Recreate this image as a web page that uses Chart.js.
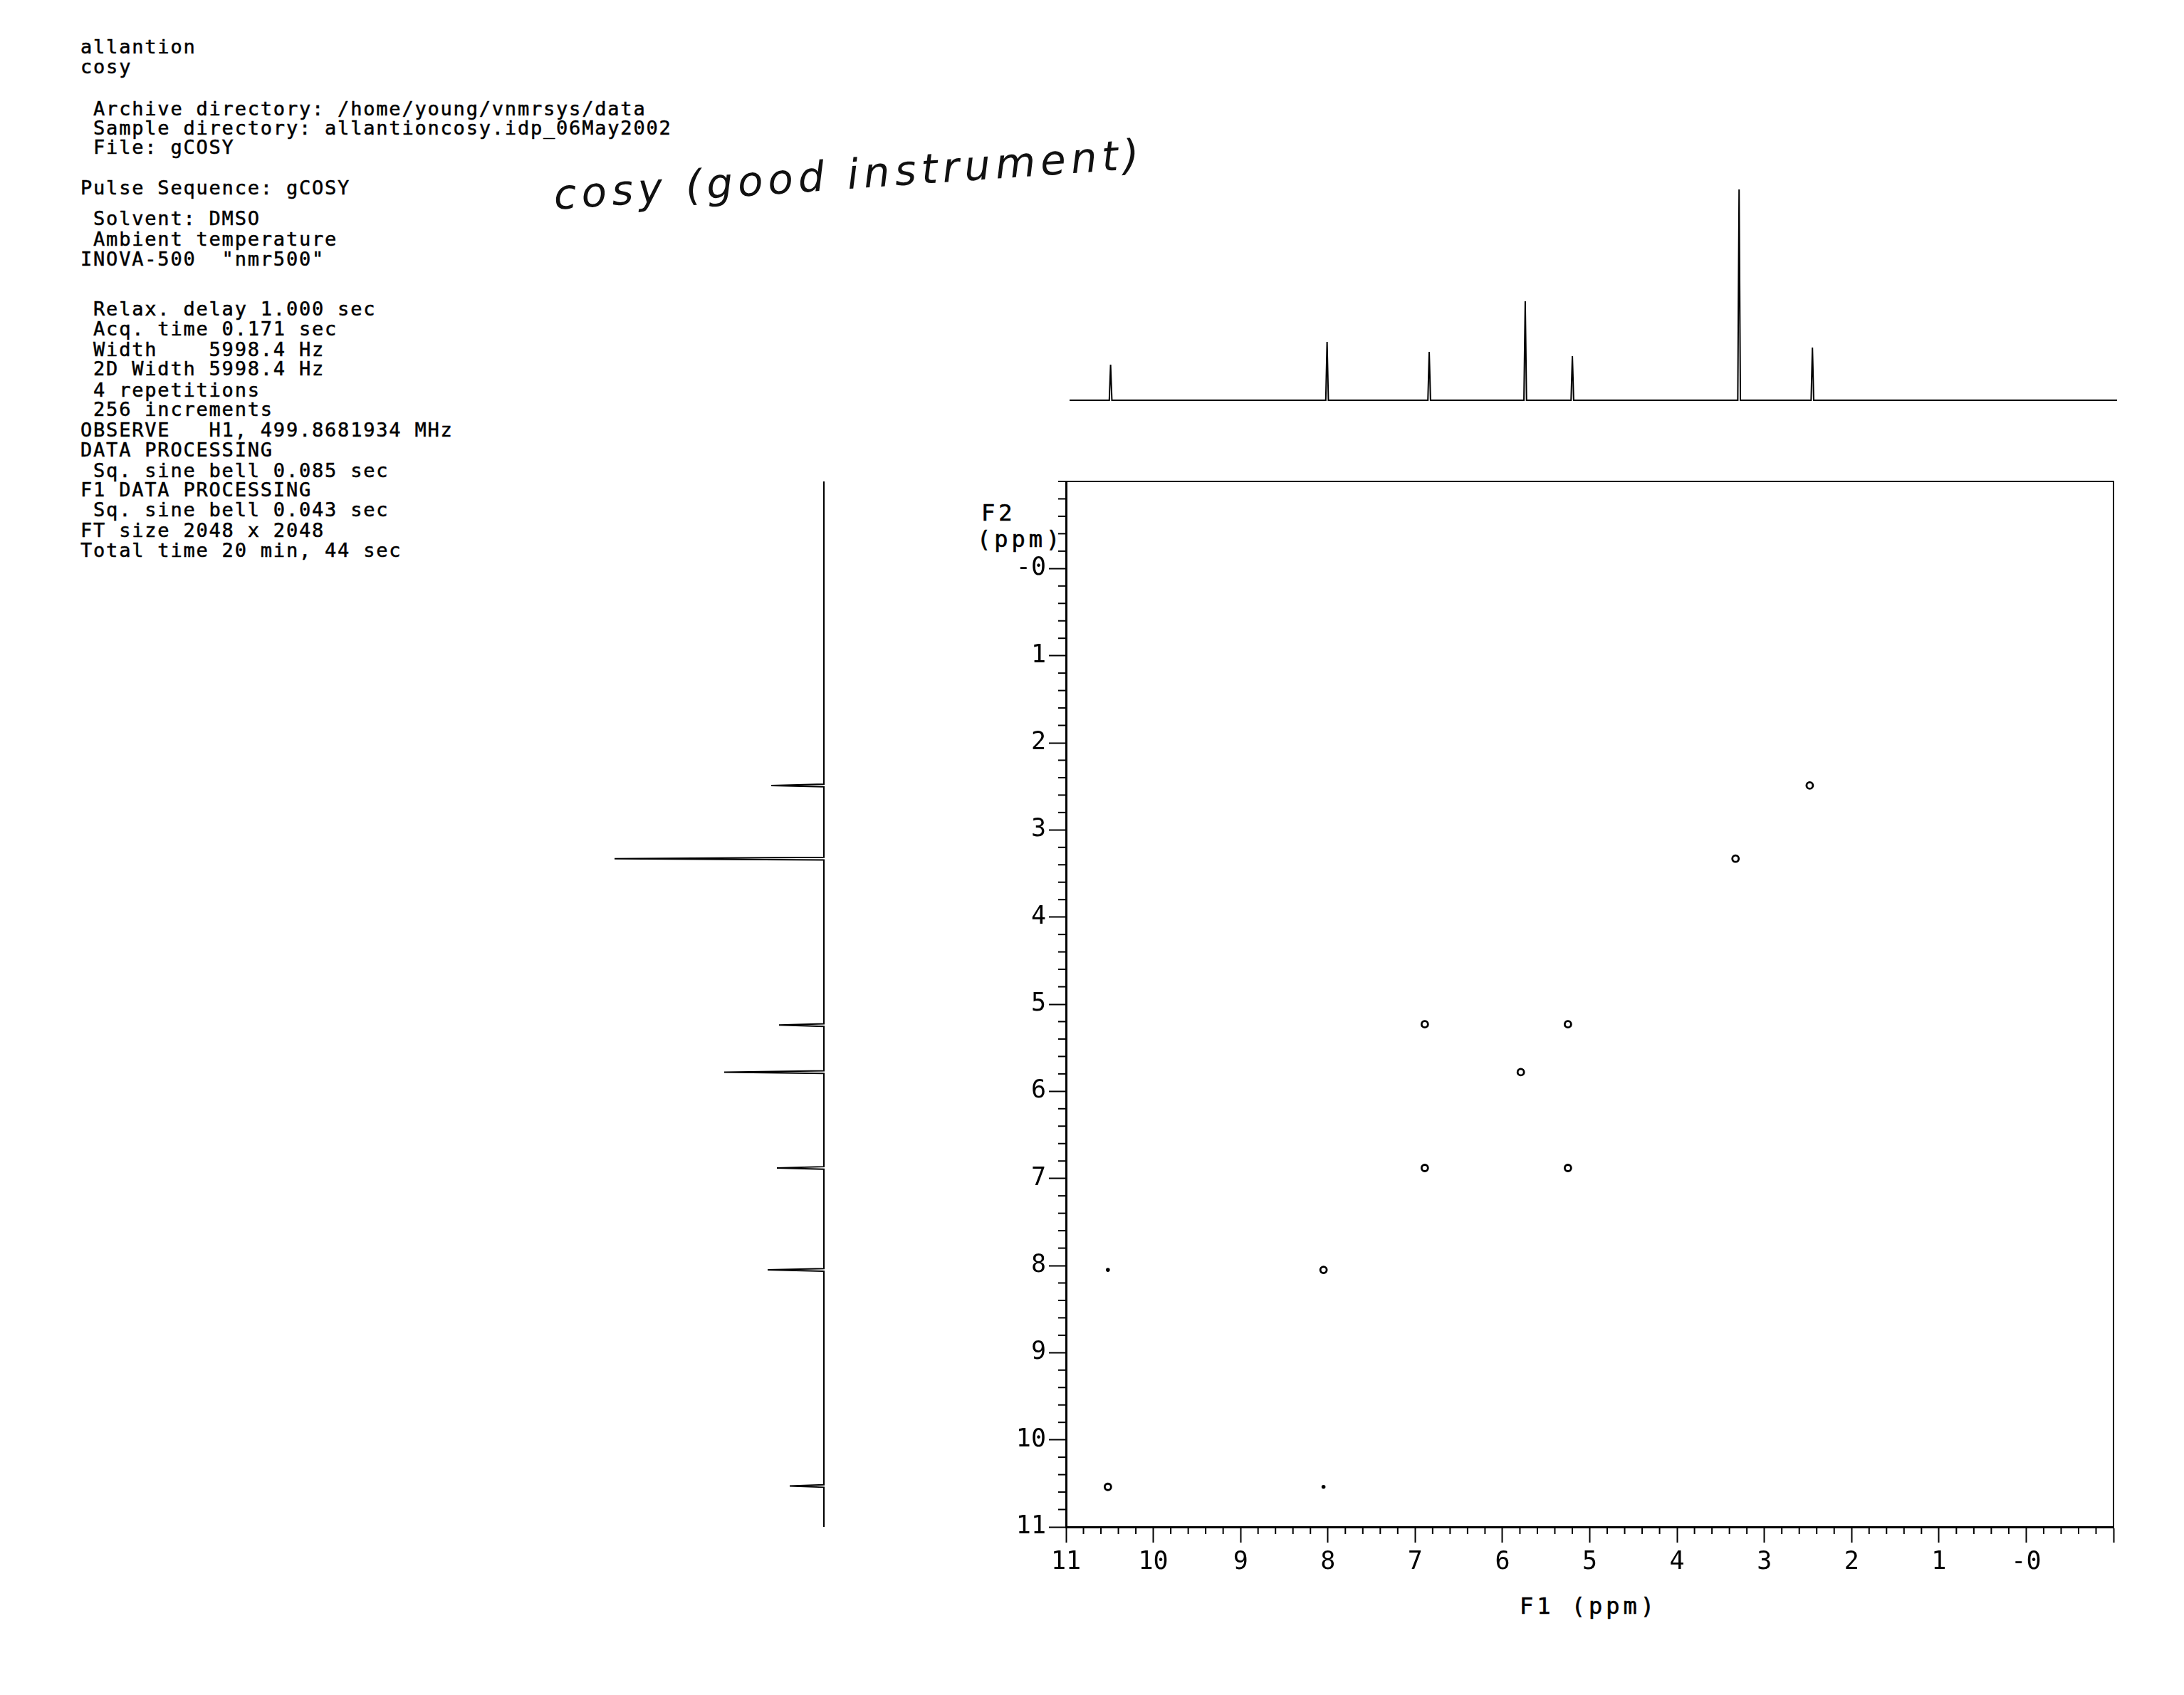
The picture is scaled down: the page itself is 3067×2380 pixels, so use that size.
<!DOCTYPE html>
<html>
<head>
<meta charset="utf-8">
<script src="https://cdn.jsdelivr.net/npm/chart.js@4.4.1/dist/chart.umd.min.js"></script>
<style>
  body { margin: 0; background: #fff; width: 3067px; height: 2380px; overflow: hidden; position: relative; }
  .txt { position: absolute; font-family: 'DejaVu Sans Mono', monospace; font-size: 27px; line-height: 28px; letter-spacing: 1.8px;
         color: #000; white-space: pre; -webkit-text-stroke: 0.5px #000; }
  .axt { position: absolute; font-family: 'DejaVu Sans Mono', monospace; font-size: 32px; line-height: 34px; letter-spacing: 5px;
         color: #000; white-space: pre; -webkit-text-stroke: 0.6px #000; }
  .note { position: absolute; left: 780px; top: 240px; font-family: 'DejaVu Sans', sans-serif; font-style: italic; font-weight: 300;
          font-size: 58px; letter-spacing: 7px; color: #111; transform: rotate(-4deg); transform-origin: left bottom; white-space: pre; }
  canvas { position: absolute; }
</style>
</head>
<body>
<div id="header"></div>
<div class="note">cosy (good instrument)</div>
<div class="axt" style="left:1378px; top:703px;">F2</div>
<div class="axt" style="left:1372px; top:740px;">(ppm)</div>
<div class="axt" style="left:2134px; top:2238px;">F1 (ppm)</div>

<canvas id="topProj" width="1471" height="334" style="left:1502px; top:230px;"></canvas>
<canvas id="leftProj" width="362" height="1468" style="left:797px; top:676px;"></canvas>
<canvas id="cosy" width="1760" height="1720" style="left:1280px; top:600px;"></canvas>

<script>
// parameter text printed by the spectrometer
const headerLines = [
  [66, 'allantion'],
  [94, 'cosy'],
  [153, ' Archive directory: /home/young/vnmrsys/data'],
  [180, ' Sample directory: allantioncosy.idp_06May2002'],
  [207, ' File: gCOSY'],
  [264, 'Pulse Sequence: gCOSY'],
  [307, ' Solvent: DMSO'],
  [336, ' Ambient temperature'],
  [364, 'INOVA-500  "nmr500"'],
  [434, ' Relax. delay 1.000 sec'],
  [462, ' Acq. time 0.171 sec'],
  [491, ' Width    5998.4 Hz'],
  [518, ' 2D Width 5998.4 Hz'],
  [548, ' 4 repetitions'],
  [575, ' 256 increments'],
  [604, 'OBSERVE   H1, 499.8681934 MHz'],
  [632, 'DATA PROCESSING'],
  [661, ' Sq. sine bell 0.085 sec'],
  [688, 'F1 DATA PROCESSING'],
  [716, ' Sq. sine bell 0.043 sec'],
  [745, 'FT size 2048 x 2048'],
  [773, 'Total time 20 min, 44 sec']
];

// 1D projections (ppm, heights)
const peakPpm = [10.53, 8.05, 6.88, 5.78, 5.24, 3.33, 2.49];
const topHeights = [50, 82, 68, 139, 62, 296, 74];
const leftHeights = [48, 79, 66, 140, 63, 294, 74];

// cross peaks: F1 (x) and F2 (y) in ppm
const ringF1 = [2.48, 3.33, 6.89, 5.25, 5.79, 6.89, 5.25, 8.05, 10.52];
const ringF2 = [2.49, 3.33, 5.23, 5.23, 5.78, 6.88, 6.88, 8.05, 10.54];
const dotF1 = [10.52, 8.05];
const dotF2 = [8.05, 10.54];

const axisMin = -1;
const axisMax = 11;
const peakHalfWidth = 0.015;

const header = document.getElementById('header');
headerLines.forEach(([y, text]) => {
  const d = document.createElement('div');
  d.className = 'txt';
  d.style.left = '113px';
  d.style.top = (y - 14) + 'px';
  d.textContent = text;
  header.appendChild(d);
});

// trace from baseline through each peak
function projectionPoints(heights, vertical) {
  const pts = [[axisMax, 0]];
  peakPpm.forEach((p, i) => {
    pts.push([p + peakHalfWidth, 0], [p, heights[i]], [p - peakHalfWidth, 0]);
  });
  pts.push([axisMin, 0]);
  return pts.map(([ppm, h]) => vertical ? { x: h, y: ppm } : { x: ppm, y: h });
}

const isMajor = v => Math.abs(v - Math.round(v)) < 1e-6;

new Chart(document.getElementById('topProj'), {
  type: 'scatter',
  data: {
    datasets: [{
      data: projectionPoints(topHeights, false),
      showLine: true,
      borderColor: '#000',
      borderWidth: 2,
      pointRadius: 0,
      clip: false
    }]
  },
  options: {
    responsive: false,
    animation: false,
    layout: { padding: 0 },
    plugins: { legend: { display: false }, tooltip: { enabled: false } },
    scales: {
      x: { type: 'linear', min: axisMin, max: axisMax, reverse: true, display: false },
      y: { type: 'linear', min: -2, max: 332, display: false }
    }
  }
});

new Chart(document.getElementById('leftProj'), {
  type: 'scatter',
  data: {
    datasets: [{
      data: projectionPoints(leftHeights, true),
      showLine: true,
      borderColor: '#000',
      borderWidth: 2,
      pointRadius: 0,
      clip: false
    }]
  },
  options: {
    responsive: false,
    animation: false,
    layout: { padding: 0 },
    plugins: { legend: { display: false }, tooltip: { enabled: false } },
    scales: {
      x: { type: 'linear', min: -2, max: 360, reverse: true, display: false },
      y: { type: 'linear', min: axisMin, max: axisMax, reverse: true, display: false }
    }
  }
});

// short ticks between the labelled ones, plus top/right frame
const frameAndMinor = {
  id: 'frameAndMinor',
  afterDraw(chart) {
    const { ctx, chartArea, scales } = chart;
    ctx.save();
    ctx.strokeStyle = '#000';
    ctx.lineWidth = 2;
    scales.x.ticks.forEach(t => {
      if (isMajor(t.value)) return;
      const px = scales.x.getPixelForValue(t.value);
      ctx.beginPath();
      ctx.moveTo(px, chartArea.bottom);
      ctx.lineTo(px, chartArea.bottom + 10);
      ctx.stroke();
    });
    scales.y.ticks.forEach(t => {
      if (isMajor(t.value) && t.value !== axisMin) return;
      const py = scales.y.getPixelForValue(t.value);
      ctx.beginPath();
      ctx.moveTo(chartArea.left, py);
      ctx.lineTo(chartArea.left - 11, py);
      ctx.stroke();
    });
    ctx.lineWidth = 2;
    ctx.beginPath();
    ctx.moveTo(chartArea.left, chartArea.top);
    ctx.lineTo(chartArea.right, chartArea.top);
    ctx.lineTo(chartArea.right, chartArea.bottom);
    ctx.stroke();
    ctx.restore();
  }
};

const tickLabel = v => {
  if (!isMajor(v)) return '';
  const r = Math.round(v);
  if (r < 0) return '';
  return r === 0 ? '-0' : String(r);
};

const tickFont = { family: "'DejaVu Sans Mono', monospace", size: 35 };

new Chart(document.getElementById('cosy'), {
  type: 'scatter',
  data: {
    datasets: [
      {
        data: ringF1.map((x, i) => ({ x, y: ringF2[i] })),
        pointRadius: 4.5,
        borderWidth: 2.8,
        borderColor: '#000',
        backgroundColor: '#fff'
      },
      {
        data: dotF1.map((x, i) => ({ x, y: dotF2[i] })),
        pointRadius: 2.8,
        borderWidth: 0,
        backgroundColor: '#000'
      }
    ]
  },
  options: {
    responsive: false,
    animation: false,
    layout: { padding: { left: 0, top: 76, right: 72, bottom: 56 } },
    plugins: { legend: { display: false }, tooltip: { enabled: false } },
    scales: {
      x: {
        type: 'linear',
        min: axisMin,
        max: axisMax,
        reverse: true,
        afterFit: s => { s.height = 120; },
        border: { color: '#000', width: 3 },
        grid: {
          drawOnChartArea: false,
          tickLength: 22,
          tickWidth: 2,
          tickColor: c => isMajor(c.tick.value) ? '#000' : 'rgba(0,0,0,0)'
        },
        ticks: {
          stepSize: 0.2,
          autoSkip: false,
          maxRotation: 0,
          padding: 7,
          color: '#000',
          font: tickFont,
          callback: tickLabel
        }
      },
      y: {
        type: 'linear',
        min: axisMin,
        max: axisMax,
        reverse: true,
        afterFit: s => { s.width = 217; },
        border: { color: '#000', width: 3 },
        grid: {
          drawOnChartArea: false,
          tickLength: 24,
          tickWidth: 2,
          tickColor: c => isMajor(c.tick.value) && c.tick.value !== axisMin ? '#000' : 'rgba(0,0,0,0)'
        },
        ticks: {
          stepSize: 0.2,
          autoSkip: false,
          padding: 4,
          color: '#000',
          font: tickFont,
          callback: tickLabel
        }
      }
    }
  },
  plugins: [frameAndMinor]
});
</script>
</body>
</html>
